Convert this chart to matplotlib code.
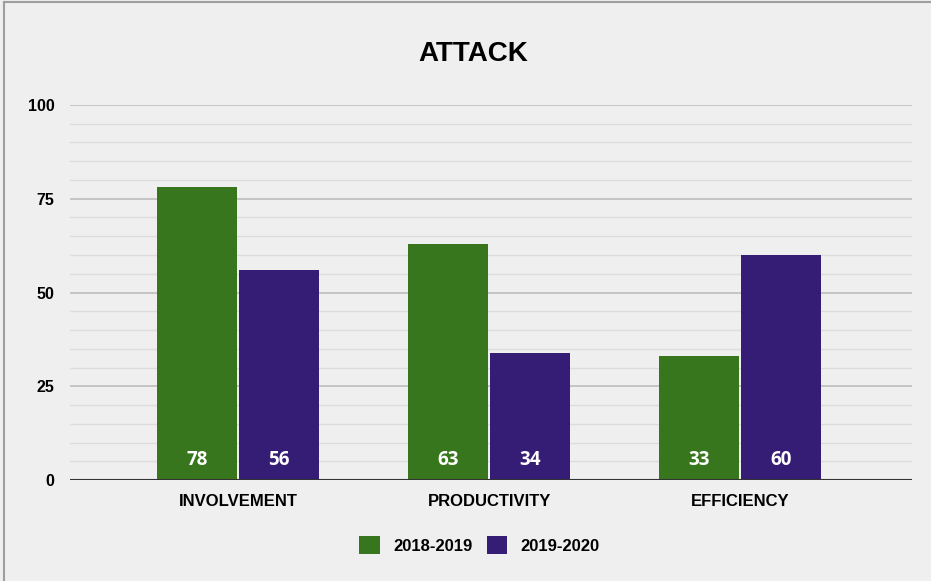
import matplotlib.pyplot as plt
import numpy as np

categories = ['INVOLVEMENT', 'PRODUCTIVITY', 'EFFICIENCY']
series_names = ['2018-2019', '2019-2020']
values_2018 = [78, 63, 33]
values_2019 = [56, 34, 60]
colors = ['#38761d', '#351c75']

plt.rcParams['font.family'] = ['Liberation Sans', 'DejaVu Sans']

fig = plt.figure(figsize=(9.31, 5.81), dpi=100, facecolor='#efefef')
ax = fig.add_axes([0.0752, 0.1738, 0.9044, 0.6455])
ax.set_facecolor('#efefef')

x = np.arange(len(categories))
w = 0.32
bars1 = ax.bar(x - w / 2 - 0.004, values_2018, w, color=colors[0], label=series_names[0], zorder=3)
bars2 = ax.bar(x + w / 2 + 0.004, values_2019, w, color=colors[1], label=series_names[1], zorder=3)

# value labels at the bottom of each bar
for bars in (bars1, bars2):
    for b in bars:
        ax.text(b.get_x() + b.get_width() / 2, 5.3, str(int(b.get_height())),
                ha='center', va='center', color='white', fontsize=13.5,
                fontweight='bold', family='Open Sans', zorder=4)

ax.set_xlim(-0.67, 2.685)
ax.set_ylim(0, 100)
ax.set_yticks([0, 25, 50, 75, 100])
ax.set_yticks(np.arange(5, 100, 5), minor=True)
ax.grid(axis='y', which='major', color='#bdbdbd', linewidth=1.2, zorder=0)
ax.grid(axis='y', which='minor', color='#dcdcdc', linewidth=1.0, zorder=0)
ax.axhline(0, color='#333333', linewidth=1.5, zorder=5)

ax.set_xticks(x)
ax.set_xticklabels(categories, fontsize=12, fontweight='bold')
ax.tick_params(axis='both', which='both', length=0)
ax.tick_params(axis='x', pad=10)
ax.tick_params(axis='y', pad=11)
for lbl in ax.get_yticklabels():
    lbl.set_fontsize(11.5)
    lbl.set_fontweight('bold')
for s in ax.spines.values():
    s.set_visible(False)

fig.text(0.508, 0.907, 'ATTACK', ha='center', va='center', fontsize=20, fontweight='bold')

leg = fig.legend(loc='center', bbox_to_anchor=(0.515, 0.062), ncol=2, frameon=False,
                 prop={'weight': 'bold', 'size': 12}, handlelength=1.25, handleheight=1.25,
                 handletextpad=0.8, columnspacing=0.85)

# frame border on left and top
fig.add_artist(plt.Line2D([0.004, 0.004], [0, 0.997], color='#9e9e9e', linewidth=1.5))
fig.add_artist(plt.Line2D([0.004, 1], [0.997, 0.997], color='#9e9e9e', linewidth=1.5))

fig.savefig('out.png', dpi=100, facecolor=fig.get_facecolor())
